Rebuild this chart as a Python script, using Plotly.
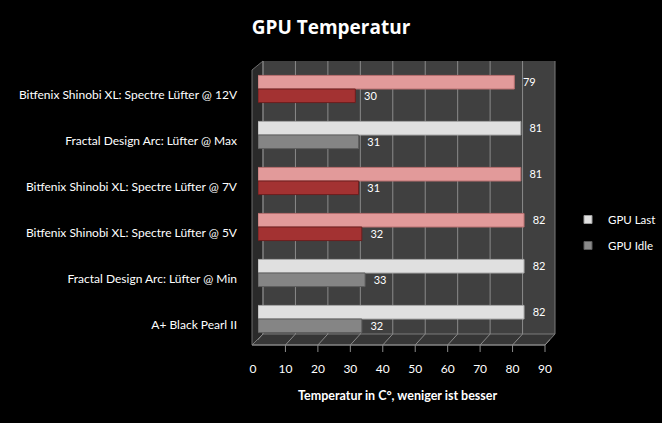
import plotly.graph_objects as go

categories = [
    "Bitfenix Shinobi XL: Spectre Lüfter @ 12V",
    "Fractal Design Arc: Lüfter @ Max",
    "Bitfenix Shinobi XL: Spectre Lüfter @ 7V",
    "Bitfenix Shinobi XL: Spectre Lüfter @ 5V",
    "Fractal Design Arc: Lüfter @ Min",
    "A+ Black Pearl II",
]
gpu_last = [79, 81, 81, 82, 82, 82]
gpu_idle = [30, 31, 31, 32, 33, 32]
tick_values = [0, 10, 20, 30, 40, 50, 60, 70, 80, 90]

W, H = 662, 423
L, R, T, B = 258, 550, 66, 342

def px(x):
    return (x - L) / (R - L)

def py(y):
    return (B - y) / (B - T)

is_bitfenix = [c.startswith("Bitfenix") for c in categories]
last_colors = ["#e29a9a" if b else "#e0e0e0" for b in is_bitfenix]
last_lines = ["#b87070" if b else "#a8a8a8" for b in is_bitfenix]
idle_colors = ["#a33232" if b else "#858585" for b in is_bitfenix]
idle_lines = ["#6e1e1e" if b else "#5e5e5e" for b in is_bitfenix]

fig = go.Figure()
fig.add_trace(go.Bar(
    y=categories, x=gpu_last, orientation="h", name="GPU Last",
    marker=dict(color=last_colors, line=dict(color=last_lines, width=1)),
    text=[str(v) for v in gpu_last], texttemplate="  %{text}", textposition="outside",
    textfont=dict(color="white", size=13, family="Lato"),
    cliponaxis=False, showlegend=False,
))
fig.add_trace(go.Bar(
    y=categories, x=gpu_idle, orientation="h", name="GPU Idle",
    marker=dict(color=idle_colors, line=dict(color=idle_lines, width=1)),
    text=[str(v) for v in gpu_idle], texttemplate="  %{text}", textposition="outside",
    textfont=dict(color="white", size=13, family="Lato"),
    cliponaxis=False, showlegend=False,
))
# legend entries
fig.add_trace(go.Scatter(x=[None], y=[None], mode="markers", name="GPU Last", legendgroup="a",
                         marker=dict(symbol="square", size=8, color="#e0e0e0",
                                     line=dict(color="#9a9a9a", width=1))))
fig.add_trace(go.Scatter(x=[None], y=[None], mode="markers", name="GPU Idle", legendgroup="b",
                         marker=dict(symbol="square", size=8, color="#8a8a8a",
                                     line=dict(color="#5a5a5a", width=1))))

shapes = []
shapes.append(dict(type="rect", xref="paper", yref="paper",
                   x0=px(263), x1=px(555), y0=py(334), y1=py(61),
                   fillcolor="#404040", line=dict(width=0), layer="below"))
shapes.append(dict(type="path", xref="paper", yref="paper",
                   path=f"M {px(252)} {py(70)} L {px(263)} {py(61)} L {px(263)} {py(334)} L {px(252)} {py(345)} Z",
                   fillcolor="#2a2a2a", line=dict(color="#6e6e6e", width=1), layer="below"))
shapes.append(dict(type="path", xref="paper", yref="paper",
                   path=f"M {px(252)} {py(345)} L {px(263)} {py(334)} L {px(555)} {py(334)} L {px(545)} {py(345)} Z",
                   fillcolor="#363636", line=dict(color="#7a7a7a", width=1), layer="below"))
shapes.append(dict(type="line", xref="paper", yref="paper",
                   x0=px(555), x1=px(555), y0=py(334), y1=py(61),
                   line=dict(color="#7a7a7a", width=1), layer="below"))
for v in tick_values:
    shapes.append(dict(type="line", xref="x", yref="paper", xsizemode="pixel", xanchor=v,
                       x0=5, x1=5, y0=py(334), y1=py(61),
                       line=dict(color="#8a8a8a", width=1), layer="below"))
    shapes.append(dict(type="line", xref="x", yref="paper", xsizemode="pixel", xanchor=v,
                       x0=-5, x1=5, y0=py(345), y1=py(334),
                       line=dict(color="#8a8a8a", width=1), layer="below"))
    shapes.append(dict(type="line", xref="x", yref="paper", xsizemode="pixel", xanchor=v,
                       x0=-5, x1=-5, y0=py(345), y1=py(352),
                       line=dict(color="#8a8a8a", width=1), layer="below"))
shapes.append(dict(type="line", xref="paper", yref="paper",
                   x0=px(252), x1=px(545), y0=py(345), y1=py(345),
                   line=dict(color="#8a8a8a", width=1), layer="below"))

fig.update_layout(
    width=W, height=H,
    margin=dict(l=L, r=W - R, t=T, b=H - B, pad=0, autoexpand=False),
    paper_bgcolor="black", plot_bgcolor="rgba(0,0,0,0)",
    barmode="group", bargap=0.41, bargroupgap=0,
    font=dict(family="Lato", color="white", size=11),
    title=dict(text="<b>GPU Temperatur</b>", x=0.5, xanchor="center",
               y=1 - 27 / H, yanchor="middle", yref="container",
               font=dict(family="Open Sans", size=19, color="white")),
    xaxis=dict(range=[0, 90], tickvals=tick_values, showgrid=False, zeroline=False,
               showline=False, ticks="", ticklabelshift=-5, ticklabelstandoff=18,
               tickfont=dict(family="Lato", size=12, color="white"), fixedrange=True,
               automargin=False),
    yaxis=dict(categoryorder="array", categoryarray=categories, autorange="reversed",
               showgrid=False, zeroline=False, showline=False, ticks="",
               ticklabelstandoff=20, ticklabelshift=-6,
               tickfont=dict(family="Lato", size=12, color="white"), fixedrange=True,
               automargin=False),
    legend=dict(x=px(568), y=py(205), xanchor="left", yanchor="top",
                bgcolor="rgba(0,0,0,0)", font=dict(family="Lato", size=11.5, color="white"),
                itemwidth=30, tracegroupgap=7),
    shapes=shapes,
    annotations=[dict(text="<b>Temperatur in C°, weniger ist besser</b>", xref="paper", yref="paper",
                      x=px(398), y=py(395), xanchor="center", yanchor="middle", showarrow=False,
                      font=dict(family="Lato", size=12.5, color="white"))],
)

fig.write_html("out.html")
